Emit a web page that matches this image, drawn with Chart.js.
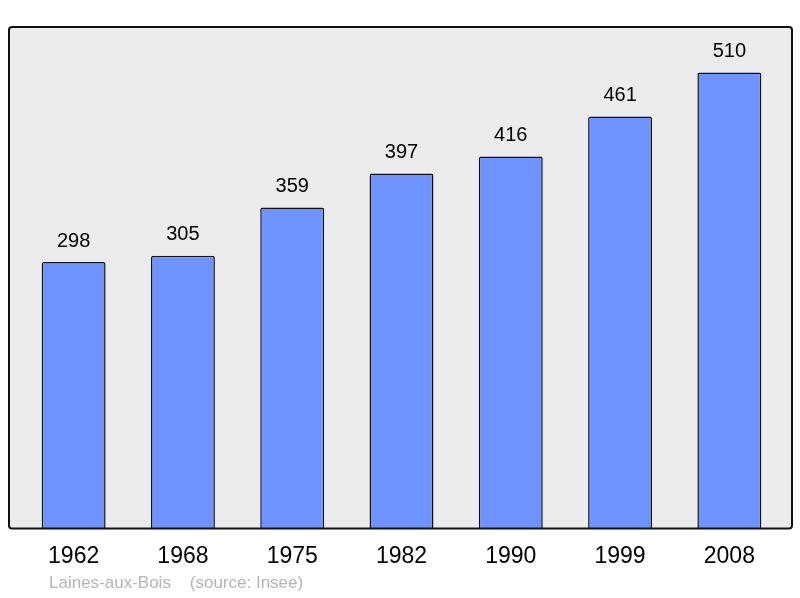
<!DOCTYPE html>
<html>
<head>
<meta charset="utf-8">
<script src="https://cdn.jsdelivr.net/npm/chart.js@4"></script>
<style>
  body { margin: 0; background: #fff; }
  #wrap { position: relative; width: 800px; height: 598px; }
  #source {
    position: absolute; left: 49px; top: 573px;
    font: 17px "Liberation Sans", Arial, sans-serif; color: #b4b4b4;
    white-space: pre;
  }
</style>
</head>
<body>
<div id="wrap">
  <canvas id="popChart" width="800" height="598"></canvas>
  <div id="source">Laines-aux-Bois    (source: Insee)</div>
</div>
<script>
const years = ['1962', '1968', '1975', '1982', '1990', '1999', '2008'];
const population = [298, 305, 359, 397, 416, 461, 510];

// gray panel with black frame behind the bars
const panelPlugin = {
    id: 'panel',
    beforeDraw(chart) {
        const { ctx, chartArea } = chart;
        const x = chartArea.left - 10, y = chartArea.top;
        const w = chartArea.right + 8 - x, h = chartArea.bottom - y;
        ctx.save();
        ctx.beginPath();
        ctx.roundRect(x, y, w, h, 3);
        ctx.fillStyle = '#ececec';
        ctx.fill();
        ctx.restore();
    },
    afterDatasetsDraw(chart) {
        const { ctx, chartArea } = chart;
        const x = chartArea.left - 10, y = chartArea.top;
        const w = chartArea.right + 8 - x, h = chartArea.bottom - y;
        ctx.save();
        ctx.beginPath();
        ctx.roundRect(x, y, w, h, 3);
        ctx.lineWidth = 2;
        ctx.strokeStyle = '#111';
        ctx.stroke();

        // value labels above bars
        ctx.font = '20px "Liberation Sans", Arial, sans-serif';
        ctx.fillStyle = '#000';
        ctx.textAlign = 'center';
        ctx.textBaseline = 'middle';
        chart.getDatasetMeta(0).data.forEach((bar, i) => {
            ctx.fillText(population[i], bar.x, bar.y - 21);
        });
        ctx.restore();
    }
};

new Chart(document.getElementById('popChart'), {
    type: 'bar',
    data: {
        labels: years,
        datasets: [{
            data: population,
            backgroundColor: '#7094ff',
            borderColor: '#111',
            borderWidth: 1.5,
            borderRadius: 2,
            borderSkipped: 'bottom',
            barPercentage: 0.585,
            categoryPercentage: 1
        }]
    },
    options: {
        responsive: false,
        animation: false,
        layout: { padding: { left: 19, right: 16, top: 27, bottom: 14 } },
        plugins: { legend: { display: false }, tooltip: { enabled: false } },
        scales: {
            x: {
                grid: { display: false, drawTicks: false },
                border: { display: false },
                ticks: {
                    color: '#000',
                    padding: 14,
                    font: { family: '"Liberation Sans", Arial, sans-serif', size: 23 }
                }
            },
            y: { display: false, min: 0, max: 561 }
        }
    },
    plugins: [panelPlugin]
});
</script>
</body>
</html>
